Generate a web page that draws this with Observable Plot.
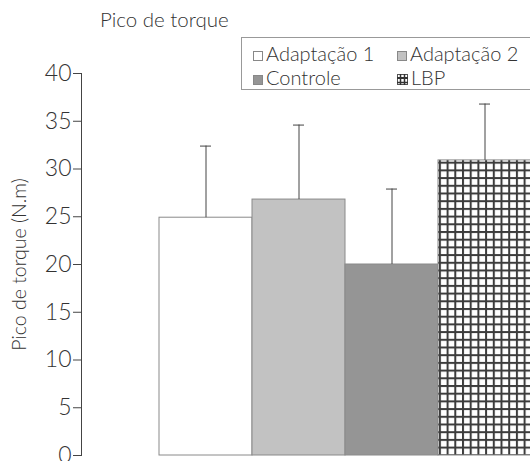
<!DOCTYPE html>
<html>
<head>
<meta charset="utf-8">
<script src="https://cdn.jsdelivr.net/npm/d3@7"></script>
<script src="https://cdn.jsdelivr.net/npm/@observablehq/plot@0.6"></script>
<style>
  html, body { margin: 0; padding: 0; background: #fff; }
  #wrap { position: relative; width: 530px; height: 461px; overflow: hidden; font-family: Lato, "Open Sans", sans-serif; color: #333; }
  #title { position: absolute; left: 100px; top: 7px; font-size: 20.5px; color: #333; white-space: nowrap; font-weight: 300; }
  #legend { position: absolute; left: 241px; top: 37px; width: 300px; height: 51px; border: 1px solid #999; border-right: none; background: #fff; }
  .item { position: absolute; font-size: 20px; line-height: 20px; white-space: nowrap; color: #333; font-weight: 300; }
  .sw { display: inline-block; width: 10px; height: 10px; border: 1px solid #888; margin-right: 3px; vertical-align: 0px; box-sizing: border-box; }
  svg.plot { position: absolute; left: 0; top: 0; }
</style>
</head>
<body>
<div id="wrap">
  <div id="title">Pico de torque</div>
</div>
<script>
const categories = ["Adaptação 1", "Adaptação 2", "Controle", "LBP"];
const means = [24.9, 26.8, 20.0, 30.9];
const sds = [7.5, 7.8, 7.9, 5.9];
const fills = ["#ffffff", "#c2c2c2", "#959595", "url(#lbp)"];
const yTicks = [0, 5, 10, 15, 20, 25, 30, 35, 40];

const data = categories.map((c, i) => ({cat: c, value: means[i], upper: means[i] + sds[i], fill: fills[i]}));

const barMarks = data.map(d => Plot.barY([d], {x: "cat", y: "value", fill: d.fill, stroke: "#8a8a8a", strokeWidth: 1}));

const chart = Plot.plot({
  width: 530,
  height: 461,
  marginLeft: 81,
  marginRight: 0,
  marginTop: 73,
  marginBottom: 6,
  style: {fontFamily: "Lato, 'Open Sans', sans-serif", fontSize: "21px", fontWeight: 300, color: "#333", background: "transparent", overflow: "hidden"},
  x: {domain: categories, range: [159, 531], padding: 0, axis: null},
  y: {domain: [0, 40]},
  marks: [
    ...barMarks,
    Plot.ruleX(data, {x: "cat", y1: "value", y2: "upper", stroke: "#444", strokeWidth: 1}),
    Plot.tickY(data, {x: "cat", y: "upper", stroke: "#444", strokeWidth: 1, insetLeft: 41, insetRight: 41}),
    Plot.frame({anchor: "left", stroke: "#444"}),
    Plot.axisY({ticks: yTicks, tickSize: 8, tickPadding: 2, stroke: "#444", fontSize: 23, label: null, fill: "#333"}),
    Plot.axisY({ticks: [], label: "Pico de torque (N.m)", labelAnchor: "center", labelArrow: "none", labelOffset: 69, fontSize: 19.5, fill: "#333", tickSize: 0})
  ]
});

// pattern for LBP
const defs = d3.select(chart).insert("defs", ":first-child");
const pat = defs.append("pattern").attr("id", "lbp").attr("patternUnits", "userSpaceOnUse").attr("width", 7.7).attr("height", 7.7);
pat.append("rect").attr("width", 7.7).attr("height", 7.7).attr("fill", "#fff");
pat.append("rect").attr("x", 0).attr("y", 0).attr("width", 2).attr("height", 7.7).attr("fill", "#3c3c3c");
pat.append("rect").attr("x", 0).attr("y", 0).attr("width", 7.7).attr("height", 2).attr("fill", "#3c3c3c");

document.getElementById("wrap").appendChild(chart);

// legend
const legend = document.createElement("div");
legend.id = "legend";
const items = [
  {label: categories[0], fill: fills[0], left: 11, top: 5},
  {label: categories[1], fill: fills[1], left: 155, top: 5},
  {label: categories[2], fill: fills[2], left: 11, top: 29},
  {label: categories[3], fill: fills[3], left: 155, top: 29}
];
items.forEach(it => {
  const el = document.createElement("div");
  el.className = "item";
  el.style.left = it.left + "px";
  el.style.top = it.top + "px";
  let sw;
  if (it.fill.startsWith("url")) {
    sw = `<svg width="11" height="11" style="margin-right:3px;vertical-align:0px"><rect x="0.5" y="0.5" width="10" height="10" fill="#fff" stroke="#555"/><line x1="0" y1="4" x2="11" y2="4" stroke="#333" stroke-width="2"/><line x1="3.5" y1="0" x2="3.5" y2="11" stroke="#333" stroke-width="1.5"/><line x1="7.5" y1="0" x2="7.5" y2="11" stroke="#333" stroke-width="1.5"/><line x1="0" y1="8.5" x2="11" y2="8.5" stroke="#333" stroke-width="1.5"/></svg>`;
  } else {
    sw = `<span class="sw" style="background:${it.fill}"></span>`;
  }
  el.innerHTML = sw + it.label;
  legend.appendChild(el);
});
document.getElementById("wrap").appendChild(legend);
</script>
</body>
</html>
